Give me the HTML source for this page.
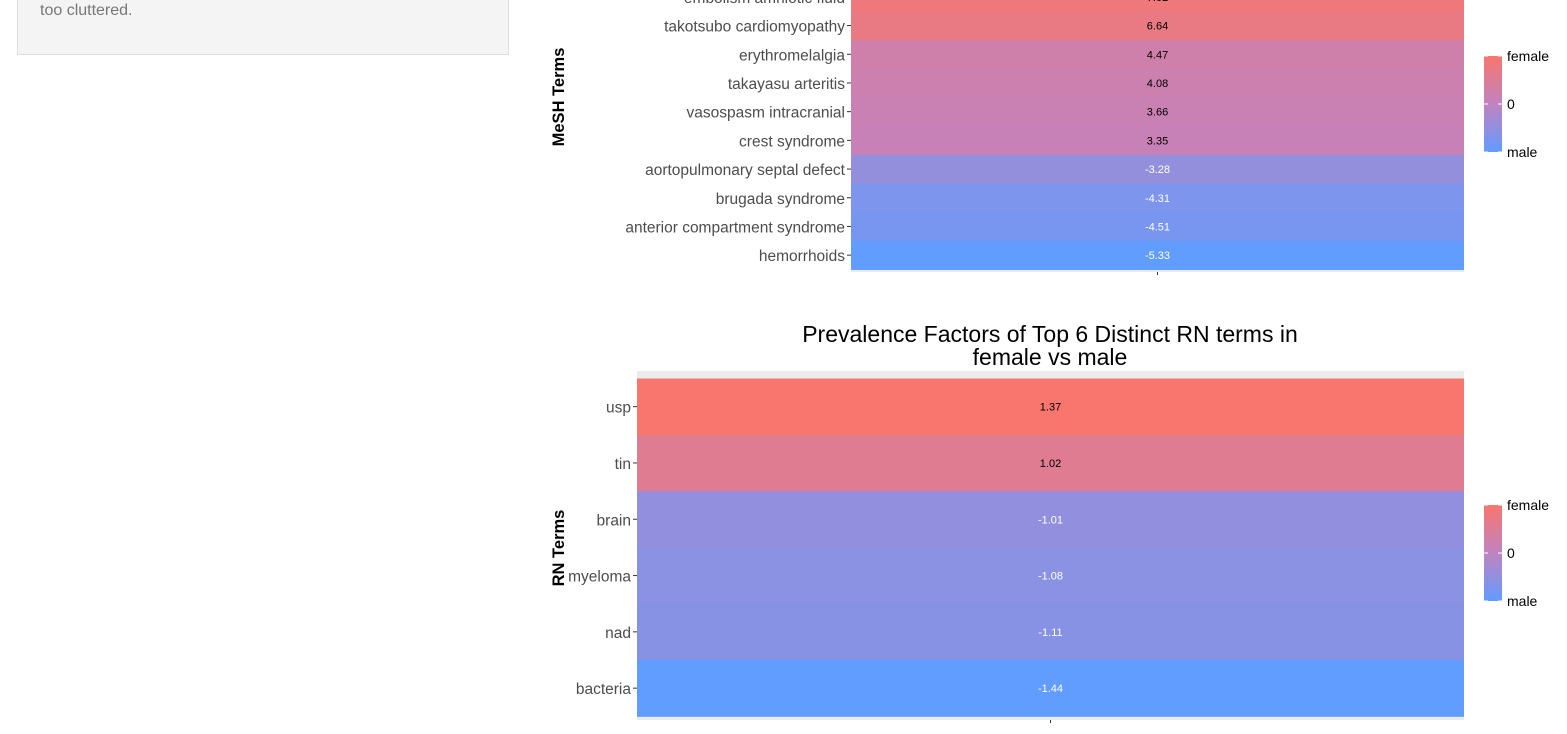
<!DOCTYPE html>
<html><head><meta charset="utf-8"><style>
body{margin:0;width:1567px;height:734px;overflow:hidden;background:#fff;font-family:"Liberation Sans",sans-serif}
#note{position:absolute;left:17px;top:-2px;width:492px;height:57px;background:#f4f4f4;border:1px solid #ddd;box-sizing:border-box}
#note span{position:absolute;left:22px;top:3px;font-size:16px;color:#777}
svg{position:absolute;left:0;top:0}
</style></head><body>
<div id="note"><span>too cluttered.</span></div>
<svg id="s" width="1567" height="734">
<defs><linearGradient id="lg" x1="0" y1="1" x2="0" y2="0"><stop offset="0" stop-color="#619CFF"/><stop offset="0.5" stop-color="#C083C0"/><stop offset="1" stop-color="#F8766D"/></linearGradient></defs>
</svg>
<script>
const meshTerms=["embolism amniotic fluid","takotsubo cardiomyopathy","erythromelalgia","takayasu arteritis","vasospasm intracranial","crest syndrome","aortopulmonary septal defect","brugada syndrome","anterior compartment syndrome","hemorrhoids"];
const meshValues=[7.02,6.64,4.47,4.08,3.66,3.35,-3.28,-4.31,-4.51,-5.33];
const rnTerms=["usp","tin","brain","myeloma","nad","bacteria"];
const rnValues=[1.37,1.02,-1.01,-1.08,-1.11,-1.44];
const S=document.getElementById('s'),NS='http://www.w3.org/2000/svg';
function mk(t,a,p){const e=document.createElementNS(NS,t);for(const k in a)e.setAttribute(k,a[k]);(p||S).appendChild(e);return e;}
function col(v,lo,hi){let t=(v-lo)/(hi-lo);t=Math.max(0,Math.min(1,t));
 const d=2*t-1;t=0.5+Math.sign(d)*Math.pow(Math.abs(d),2)/2;
 const a=[97,156,255],m=[192,131,192],b=[248,118,109];let c;
 if(t<0.5){const u=t*2;c=a.map((x,i)=>Math.round(x+(m[i]-x)*u));}else{const u=(t-0.5)*2;c=m.map((x,i)=>Math.round(x+(b[i]-x)*u));}
 return `rgb(${c})`;}
function chart(terms,vals,x0,x1,yTop,rowH,lo,hi,axisTitle,titleY,bgTop,bgBot,legTop){
 const bg=mk('rect',{x:x0,y:bgTop,width:x1-x0,height:bgBot-bgTop,fill:'#ebebeb'});
 
 terms.forEach((t,i)=>{const y=yTop+i*rowH,v=vals[i];
  const r=mk('rect',{x:x0,y:y,width:x1-x0,height:rowH+0.5,fill:col(v,lo,hi)});
  
  const vt=mk('text',{x:(x0+x1)/2,y:y+rowH/2+4,'text-anchor':'middle','font-size':11,fill:v<0?'#fff':'#000'});vt.textContent=v.toFixed(2);
  
  const lt=mk('text',{x:x0-6,y:y+rowH/2+6,'text-anchor':'end','font-size':15.5,fill:'#4d4d4d'});lt.textContent=t;
  
  mk('line',{x1:x0-4,x2:x0,y1:y+rowH/2,y2:y+rowH/2,stroke:'#333'});});
 mk('line',{x1:(x0+x1)/2,x2:(x0+x1)/2,y1:bgBot,y2:bgBot+3,stroke:'#333'});
 const at=mk('text',{transform:`translate(564,${titleY}) rotate(-90)`,'text-anchor':'middle','font-size':16.5,'font-weight':'bold'});at.textContent=axisTitle;
 
 const g=mk('g',{});
 mk('rect',{x:1484,y:legTop,width:18,height:96,fill:'url(#lg)'},g);
 [['female',0],['0',48],['male',96]].forEach(([l,o])=>{mk('line',{x1:1484,x2:1488,y1:legTop+o,y2:legTop+o,stroke:'#fff'},g);mk('line',{x1:1498,x2:1502,y1:legTop+o,y2:legTop+o,stroke:'#fff'},g);
  const tt=mk('text',{x:1507,y:legTop+o+5,'font-size':14},g);tt.textContent=l;});
}
chart(meshTerms,meshValues,851,1464,-17.5,28.7,-5.33,7.6,'MeSH Terms',97,-20,272,56);
chart(rnTerms,rnValues,637,1464,378.5,56.3,-1.44,1.37,'RN Terms',548,371,720,505);
['Prevalence Factors of Top 6 Distinct RN terms in','female vs male'].forEach((l,i)=>{const t=mk('text',{x:1050,y:342+i*23,'text-anchor':'middle','font-size':23});t.textContent=l;
 });
</script>
</body></html>
